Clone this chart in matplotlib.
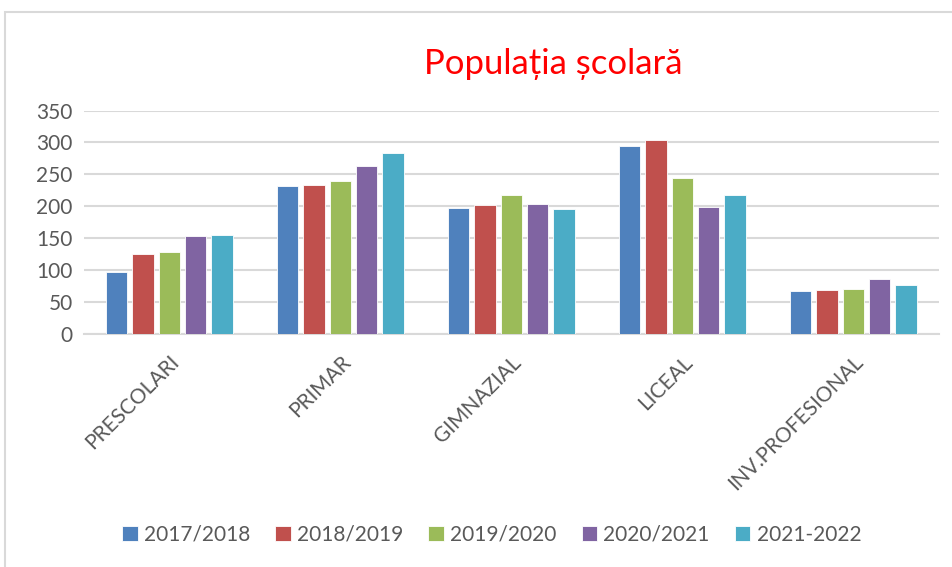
import numpy as np
import matplotlib.pyplot as plt
from matplotlib.patches import Rectangle

categories = ["PRESCOLARI", "PRIMAR", "GIMNAZIAL", "LICEAL", "INV.PROFESIONAL"]
series = ["2017/2018", "2018/2019", "2019/2020", "2020/2021", "2021-2022"]
v2017 = [97, 232, 197, 295, 68]
v2018 = [125, 234, 202, 304, 69]
v2019 = [129, 240, 218, 245, 70]
v2020 = [154, 263, 204, 199, 86]
v2021 = [155, 283, 196, 217, 77]
colors = ["#4F81BD", "#C0504D", "#9BBB59", "#8064A2", "#4BACC6"]

plt.rcParams['font.family'] = ['Lato', 'DejaVu Sans']
txt = "#595959"

fig = plt.figure(figsize=(9.53, 5.67), dpi=100)
ax = fig.add_axes([0.088, 0.411, 0.897, 0.394])

x = np.arange(len(categories))
step = 0.154
w = 0.125
data = [v2017, v2018, v2019, v2020, v2021]
for i, vals in enumerate(data):
    ax.bar(x + (i - 2) * step, vals, w, color=colors[i], label=series[i],
           edgecolor="white", linewidth=0.6, zorder=3)

ax.set_xlim(-0.5, 4.5)
ax.set_ylim(0, 350)
ax.set_yticks(range(0, 351, 50))
ax.grid(axis="y", color="#d9d9d9", linewidth=1.5, zorder=0)
for s in ["top", "right", "left"]:
    ax.spines[s].set_visible(False)
ax.spines["bottom"].set_color("#d9d9d9")
ax.spines["bottom"].set_linewidth(1.5)
ax.tick_params(axis="y", length=0, labelsize=15, labelcolor=txt, pad=8)
ax.tick_params(axis="x", length=0, labelsize=15, labelcolor=txt, pad=13)
ax.set_xticks(x)
ax.set_xticklabels(categories, rotation=45, ha="right", va="top",
                   rotation_mode="anchor")

fig.text(0.581, 0.887, "Populația școlară", color="red", fontsize=25,
         ha="center", va="center")

fig.legend(loc="center", bbox_to_anchor=(0.516, 0.057), ncol=5, frameon=False,
           fontsize=15, labelcolor=txt, handlelength=0.75, handleheight=0.75,
           handletextpad=0.3, columnspacing=1.2)

fig.patches.append(Rectangle((5 / 953, -0.1), 1.2, 1 - 12 / 567 + 0.1,
                             transform=fig.transFigure, fill=False,
                             edgecolor="#d9d9d9", linewidth=1.5))

fig.savefig("out.png", dpi=100)
